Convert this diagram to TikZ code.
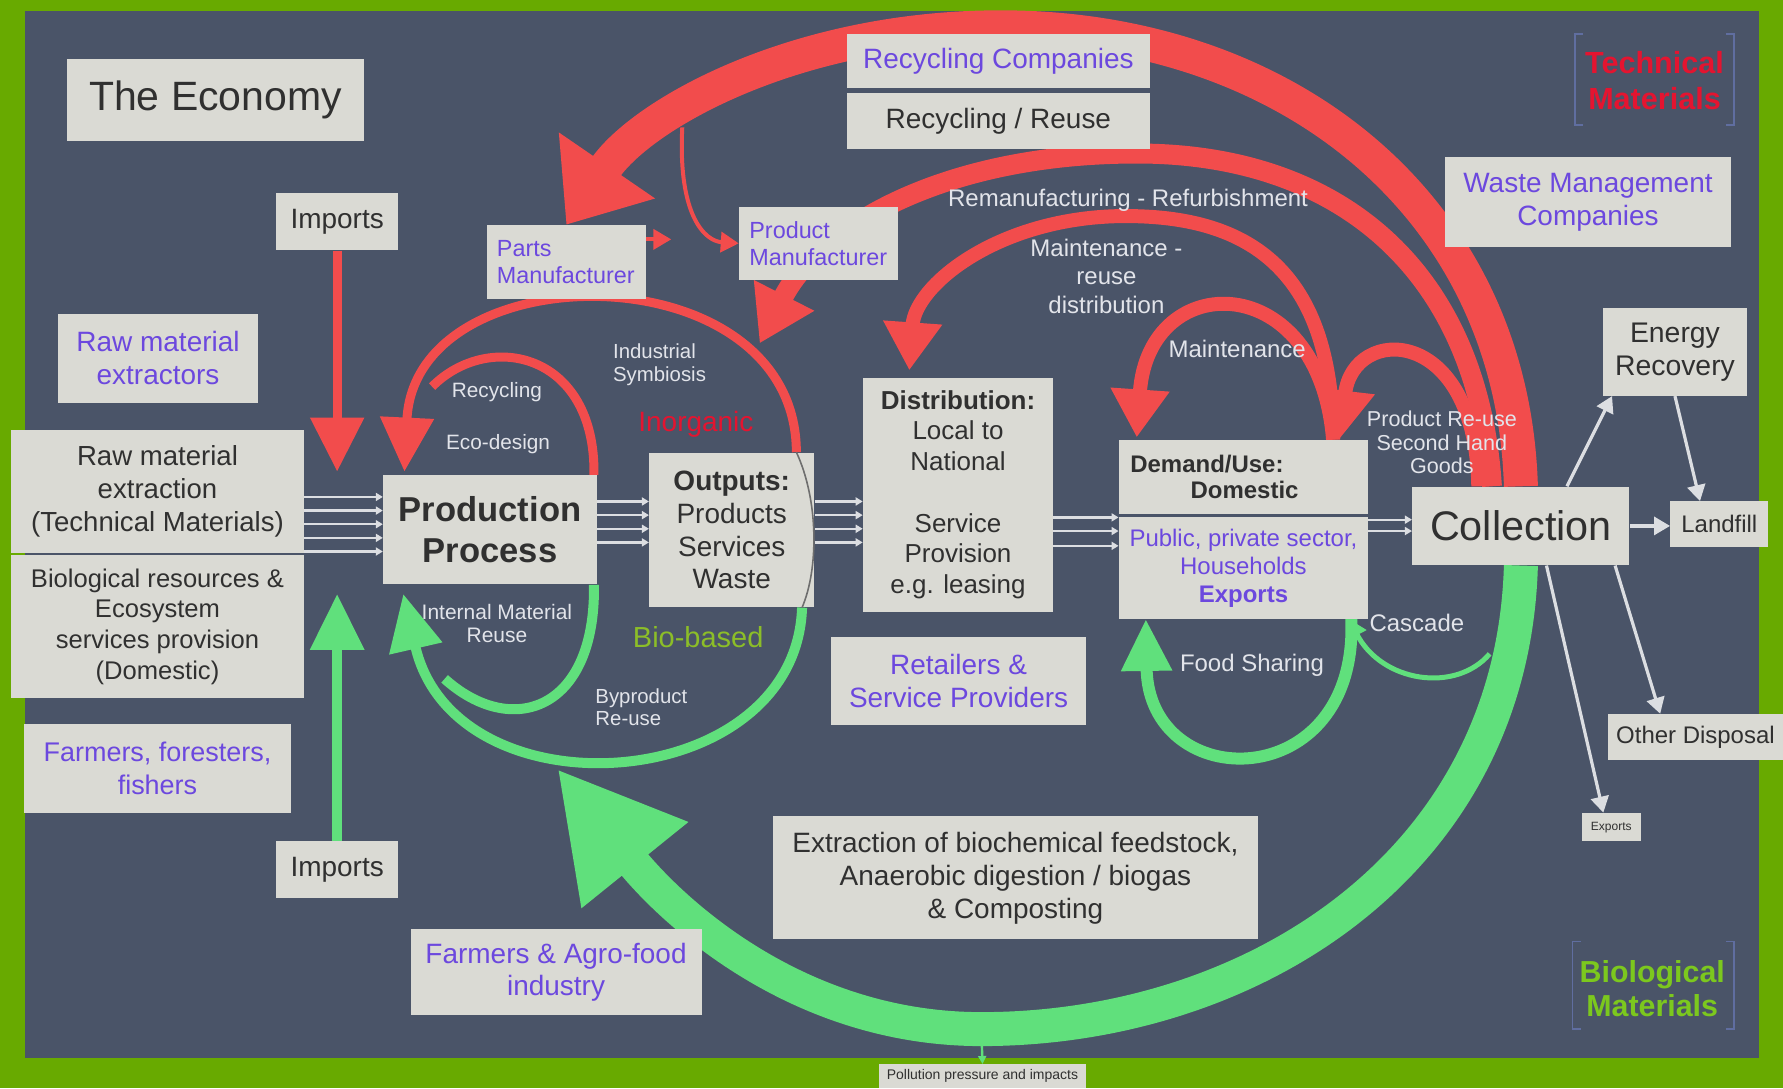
\documentclass[tikz,border=0pt]{standalone}
\usepackage{fontspec}
\setmainfont{Liberation Sans}
\usetikzlibrary{arrows.meta,positioning,calc}

\definecolor{frame}{RGB}{104,170,0}
\definecolor{slate}{RGB}{74,84,104}
\definecolor{boxfill}{RGB}{218,218,212}
\definecolor{darktext}{RGB}{48,48,48}
\definecolor{purp}{RGB}{108,72,222}
\definecolor{light}{RGB}{226,228,234}
\definecolor{flowred}{RGB}{242,76,76}
\definecolor{flowgreen}{RGB}{96,224,124}
\definecolor{biotext}{RGB}{140,190,40}
\definecolor{techred}{RGB}{228,20,48}
\definecolor{biogreen}{RGB}{124,200,30}
\definecolor{bracket}{RGB}{96,110,160}
\definecolor{wire}{RGB}{220,222,226}

\pgfdeclarelayer{bg}
\pgfdeclarelayer{flows}
\pgfsetlayers{bg,flows,main}

\newcommand{\fsz}[2]{\fontsize{#1}{#2}\selectfont}

\begin{document}
\begin{tikzpicture}[x=0.02cm, y=-0.02cm, inner sep=0pt]
\tikzstyle{box}=[fill=boxfill, text=darktext, align=center, inner sep=0pt]
\tikzstyle{lbl}=[text=light, align=center, inner sep=0pt]
\tikzstyle{flow}=[draw=wire, line width=1.1pt, -{Triangle[width=4pt,length=3.5pt]}]
\tikzstyle{dispose}=[draw=wire, line width=1.6pt, -{Triangle[width=9pt,length=8pt]}]
\tikzstyle{redwide}=[draw=flowred, line width=17pt, -{Triangle[width=56pt,length=36pt]}]
\tikzstyle{redmid}=[draw=flowred, line width=10pt, -{Triangle[width=32pt,length=27pt]}]
\tikzstyle{redloop}=[draw=flowred, line width=7pt, -{Triangle[width=28pt,length=24pt]}]
\tikzstyle{redline}=[draw=flowred, line width=4.5pt, -{Triangle[width=26pt,length=27pt]}]
\tikzstyle{redthin}=[draw=flowred, line width=2pt, -{Triangle[width=10pt,length=9pt]}]
\tikzstyle{greenwide}=[draw=flowgreen, line width=17pt, -{Triangle[width=64pt,length=62pt]}]
\tikzstyle{greenline}=[draw=flowgreen, line width=5pt, -{Triangle[width=26pt,length=28pt]}]
\tikzstyle{greenloop}=[draw=flowgreen, line width=6pt, -{Triangle[width=24pt,length=26pt]}]
\tikzstyle{greenthin}=[draw=flowgreen, line width=2.5pt, -{Triangle[width=10pt,length=9pt]}]

\useasboundingbox (0,0) rectangle (1568,957);
\begin{pgfonlayer}{bg}
  \fill[frame] (0,0) rectangle (1568,957);
  \fill[slate] (22,10) rectangle (1547,930);
\end{pgfonlayer}

% boxes, left side
\node[box, minimum width=5.22cm, minimum height=1.44cm, font=\fsz{20.5}{24}] (economy) at (189.5,88) {The Economy};
\node[box, minimum width=2.14cm, minimum height=1.0cm, font=\fsz{14}{16.5}] (impT) at (296.5,195) {Imports};
\node[box, minimum width=3.52cm, minimum height=1.56cm, text=purp, font=\fsz{14}{16.5}] (rawext) at (139,315) {Raw material\\extractors};
\node[box, minimum width=5.14cm, minimum height=2.16cm, font=\fsz{13.8}{16.5}] (rawtech) at (138.5,432) {Raw material\\extraction\\(Technical Materials)};
\node[box, minimum width=5.14cm, minimum height=2.52cm, font=\fsz{12.8}{15.4}] (biores) at (138.5,551) {Biological resources \&\\Ecosystem\\services provision\\(Domestic)};
\node[box, minimum width=4.70cm, minimum height=1.56cm, text=purp, font=\fsz{13.5}{16.5}] (farmers) at (138.5,676) {Farmers, foresters,\\fishers};
\node[box, minimum width=2.14cm, minimum height=1.0cm, font=\fsz{14}{16.5}] (impB) at (296.5,765) {Imports};

% boxes, middle
\node[box, minimum width=3.76cm, minimum height=1.92cm, font=\fsz{17.3}{20.5}\bfseries] (prod) at (431,466) {Production\\Process};
\node[box, minimum width=2.80cm, minimum height=1.30cm, text width=2.44cm, inner xsep=0.18cm, align=left, text=purp, font=\fsz{11.7}{13.7}] (parts) at (498,230.5) {Parts\\Manufacturer};
\node[box, minimum width=2.80cm, minimum height=1.28cm, text width=2.44cm, inner xsep=0.18cm, align=left, text=purp, font=\fsz{11.7}{13.7}] (product) at (720,214) {Product\\Manufacturer};
\node[box, minimum width=5.32cm, minimum height=0.94cm, text=purp, font=\fsz{14}{16.5}] (reccomp) at (878,53.5) {Recycling Companies};
\node[box, minimum width=5.32cm, minimum height=0.98cm, font=\fsz{14}{16.5}] (recreuse) at (878,106.5) {Recycling / Reuse};
\node[box, minimum width=2.90cm, minimum height=2.72cm, font=\fsz{14}{16.5}] (outputs) at (643.5,466) {\textbf{Outputs:}\\Products\\Services\\Waste};
\node[box, minimum width=3.34cm, minimum height=4.12cm, font=\fsz{13}{15.4}] (distrib) at (842.5,435) {\textbf{Distribution:}\\Local to\\National\\[15.4pt]Service\\Provision\\e.g. leasing};
\node[box, minimum width=4.48cm, minimum height=1.56cm, text=purp, font=\fsz{14}{16.5}] (retail) at (843,599) {Retailers \&\\Service Providers};
\node[box, minimum width=4.38cm, minimum height=1.30cm, text width=3.98cm, inner xsep=0.2cm, align=left, font=\fsz{12}{13}\bfseries] (demand) at (1093.5,419.5) {Demand/Use:\\\hspace*{1.06cm}Domestic};
\node[box, minimum width=4.38cm, minimum height=1.78cm, text=purp, font=\fsz{12}{14}] (public) at (1093.5,499.5) {Public, private sector,\\Households\\\textbf{Exports}};
\node[box, minimum width=8.52cm, minimum height=2.16cm, font=\fsz{14}{16.5}] (extraction) at (893,772) {Extraction of biochemical feedstock,\\Anaerobic digestion / biogas\\\& Composting};
\node[box, minimum width=5.12cm, minimum height=1.52cm, text=purp, font=\fsz{14}{16.5}] (agrofood) at (489,855) {Farmers \& Agro-food\\industry};
\node[box, minimum width=3.64cm, minimum height=0.42cm, font=\fsz{7}{8}] (pollution) at (864,946.5) {Pollution pressure and impacts};

% boxes, right side
\node[box, minimum width=3.82cm, minimum height=1.38cm, font=\fsz{20.7}{24}] (collection) at (1337.5,462.5) {Collection};
\node[box, minimum width=5.02cm, minimum height=1.58cm, text=purp, font=\fsz{14}{16.5}] (wastemgmt) at (1396.5,177.5) {Waste Management\\Companies};
\node[box, minimum width=2.52cm, minimum height=1.54cm, font=\fsz{14.2}{16.5}] (energy) at (1473,309.5) {Energy\\Recovery};
\node[box, minimum width=1.72cm, minimum height=0.80cm, font=\fsz{12}{14}] (landfill) at (1512,461) {Landfill};
\node[box, minimum width=3.08cm, minimum height=0.80cm, font=\fsz{12}{14}] (otherdisp) at (1491,648) {Other Disposal};
\node[box, minimum width=1.04cm, minimum height=0.50cm, font=\fsz{6}{7}] (exports) at (1417,727.5) {Exports};

% free labels
\node[lbl, font=\fsz{12}{14.2}] (remanLbl) at (992,176) {Remanufacturing - Refurbishment};
\node[lbl, font=\fsz{12}{14.2}] (reuseDistLbl) at (973,243) {Maintenance -\\reuse\\distribution};
\node[lbl, font=\fsz{12}{14.2}] (maintLbl) at (1088,307) {Maintenance};
\node[lbl, font=\fsz{10.8}{11.6}] (secondLbl) at (1268,389) {Product Re-use\\Second Hand\\Goods};
\node[lbl, font=\fsz{10.4}{12}] (recycLbl) at (437,345) {Recycling};
\node[lbl, font=\fsz{10.4}{12}] (ecoLbl) at (438,391) {Eco-design};
\node[lbl, align=left, font=\fsz{10.2}{11.4}] (symbLbl) at (580,321) {Industrial\\Symbiosis};
\node[lbl, text=techred, font=\fsz{14}{16}] (inorgLbl) at (612,373) {Inorganic};
\node[lbl, text=biotext, font=\fsz{14.5}{16}] (bioLbl) at (614,560) {Bio-based};
\node[lbl, font=\fsz{10.5}{11.6}] (internLbl) at (437,548) {Internal Material\\Reuse};
\node[lbl, align=left, font=\fsz{10.2}{11.4}] (byprodLbl) at (564,622) {Byproduct\\Re-use};
\node[lbl, font=\fsz{12}{14}] (foodLbl) at (1101,585) {Food Sharing};
\node[lbl, font=\fsz{12}{14}] (cascLbl) at (1246,548) {Cascade};
\node[lbl, text=techred, font=\fsz{15.3}{18.2}\bfseries] (techLbl) at (1455,71) {Technical\\Materials};
\node[lbl, text=biogreen, font=\fsz{15.2}{17}\bfseries] (bioMatLbl) at (1453,869) {Biological\\Materials};

% brackets round the two legends
\draw[bracket, line width=0.8pt] (1392,30) -- (1385,30) -- (1385,110) -- (1392,110);
\draw[bracket, line width=0.8pt] (1518,30) -- (1525,30) -- (1525,110) -- (1518,110);
\draw[bracket, line width=0.8pt] (1390,828) -- (1383,828) -- (1383,905) -- (1390,905);
\draw[bracket, line width=0.8pt] (1518,828) -- (1525,828) -- (1525,905) -- (1518,905);

% anchor points of the loops
\coordinate (symTop) at ([xshift=-0.32cm]outputs.north east);
\coordinate (symBot) at ([xshift=-0.22cm]outputs.south east);
\coordinate (prodIn) at ([xshift=0.38cm,yshift=0.06cm]prod.north west);
\coordinate (prodUp) at ([xshift=0.36cm,yshift=-0.16cm]prod.south west);
\coordinate (remanEnd) at (668,302);
\coordinate (distIn) at ([xshift=0.82cm,yshift=0.12cm]distrib.north west);
\coordinate (useOut) at ([xshift=-0.62cm]demand.north east);
\coordinate (useIn) at ([xshift=-0.5cm,yshift=0.02cm]demand.north east);
\coordinate (maintIn) at ([xshift=0.32cm,yshift=0.04cm]demand.north west);
\coordinate (branch) at (600,112);
\coordinate (partsOut) at ([xshift=0.44cm,yshift=0.4cm]parts.east);
\coordinate (joinRed) at (380,340);
\coordinate (joinGreen) at (391,597);
\coordinate (greenTip) at (490,676);
\coordinate (arcLow) at (863,905);
\coordinate (cascStart) at (1310,575);

\begin{pgfonlayer}{flows}
  % technical loops
  \draw[redwide] (collection.north) .. controls (1330,180) and (1130,24) .. (880,24)
        .. controls (700,24) and (565,100) .. (parts.north);
  \draw[redmid] ([xshift=-0.51cm]collection.north) .. controls (1300,240) and (1180,135) .. (1000,135)
        .. controls (830,135) and (720,200) .. (remanEnd);
  \draw[redloop] (useOut) .. controls (1172,230) and (1090,190) .. (990,190)
        .. controls (880,190) and (805,250) .. (distIn);
  \draw[redloop] (useOut) .. controls (1160,235) and (1010,235) .. (maintIn);
  \draw[redloop] ([xshift=-0.75cm]collection.north) .. controls (1298,285) and (1190,285) .. (useIn);
  \draw[redline] (symTop) .. controls (700,220) and (365,220) .. (prodIn);
  \draw[draw=flowred, line width=4.5pt] ([xshift=-0.06cm]prod.north east) .. controls (524,310) and (430,290) .. (joinRed);
  \draw[redline] (impT.south) -- (impT.south |- prodIn);
  \draw[redthin] (branch) .. controls (596,190) and (620,212) .. (product.west);
  \draw[redthin] ([yshift=0.4cm]parts.east) -- (partsOut);
  % biological loops
  \draw[greenwide] (collection.south) .. controls (1330,760) and (1100,905) .. (arcLow)
        .. controls (700,905) and (590,800) .. (greenTip);
  \draw[greenline] (symBot) .. controls (700,700) and (400,720) .. (prodUp);
  \draw[draw=flowgreen, line width=5pt] ([xshift=-0.06cm]prod.south east) .. controls (524,625) and (450,650) .. (joinGreen);
  \draw[greenline] (impB.north) -- (impB.north |- prodUp);
  \draw[greenloop] ([xshift=-0.3cm]public.south east) .. controls (1195,700) and (1010,700) .. ([xshift=0.48cm]public.south west);
  \draw[greenthin] (cascStart) .. controls (1280,610) and (1215,600) .. ([xshift=-0.34cm]public.south east);
  \draw[draw=flowgreen, line width=1.2pt, -{Triangle[width=4pt,length=4pt]}] (arcLow) -- (pollution.north);
\end{pgfonlayer}

% thin line over the outputs box
\draw[darktext!70, line width=0.8pt] (symTop) .. controls (720,440) and (720,500) .. (symBot);

% material flows between stages
\foreach \d in {0.58cm,0.34cm,0.10cm,-0.14cm,-0.38cm}
  \draw[flow] ([yshift=\d]rawtech.east |- prod.west) -- ([yshift=\d]prod.west);
\foreach \d in {0.50cm,0.26cm,0.02cm,-0.22cm}
  \draw[flow] ([yshift=\d]prod.east) -- ([yshift=\d]outputs.west);
\foreach \d in {0.50cm,0.26cm,0.02cm,-0.22cm}
  \draw[flow] ([yshift=\d]outputs.east) -- ([yshift=\d]outputs.east -| distrib.west);
\foreach \d in {0.89cm,0.65cm,0.39cm}
  \draw[flow] ([yshift=\d]public.west -| distrib.east) -- ([yshift=\d]public.west);
\foreach \d in {0.11cm,-0.09cm}
  \draw[flow] ([yshift=\d]collection.west -| public.east) -- ([yshift=\d]collection.west);

% end of life
\draw[dispose] (collection.east) -- (collection.east -| landfill.west);
\draw[dispose] ([xshift=0.81cm]collection.north) -- ([xshift=0.16cm]energy.south west);
\draw[dispose] (energy.south) -- ([xshift=-0.34cm]landfill.north);
\draw[dispose] ([xshift=-0.26cm]collection.south east) -- ([xshift=-0.62cm]otherdisp.north);
\draw[dispose] ([xshift=0.45cm]collection.south) -- ([xshift=-0.14cm]exports.north);
\end{tikzpicture}
\end{document}
